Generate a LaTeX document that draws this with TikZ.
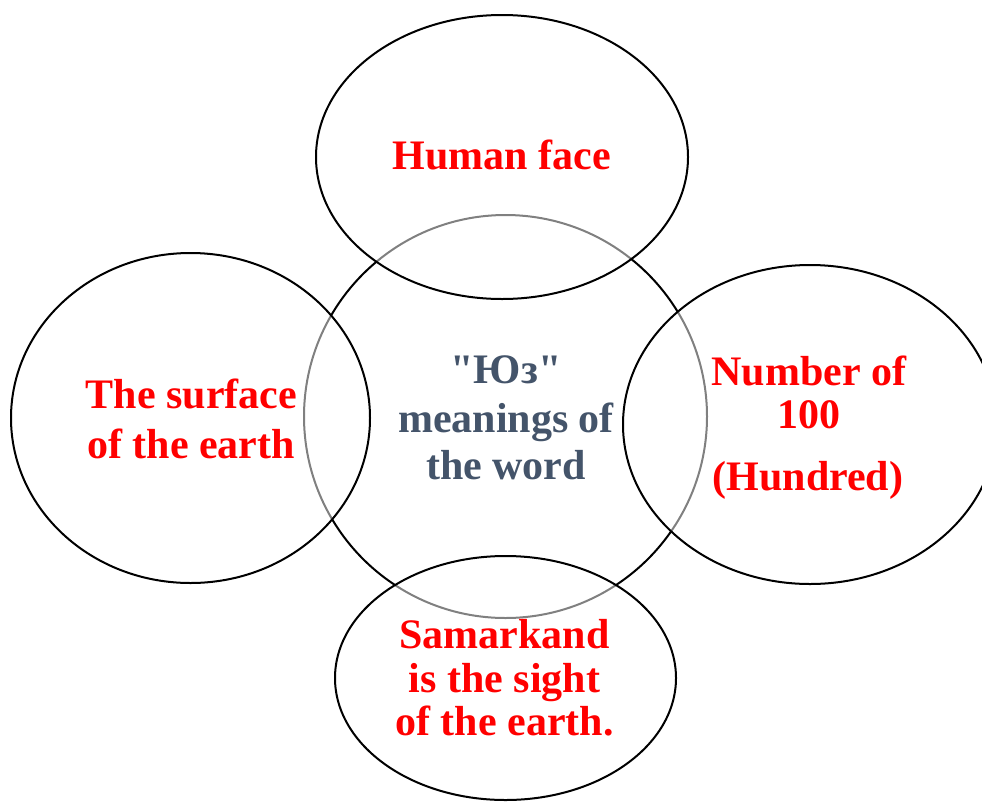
\documentclass[tikz,border=0pt]{standalone}
\usepackage{fontspec}
\newfontfamily\lserif{Liberation Serif}
\usetikzlibrary{shapes.geometric}
\definecolor{lblred}{HTML}{FF0000}
\definecolor{lblblue}{HTML}{44546A}
\begin{document}
\begin{tikzpicture}[x=1pt,y=-1pt,
  ring/.style={ellipse,draw=black,line width=2pt,inner sep=0pt,outer sep=0pt},
  petal/.style={ring,fill=white,fill opacity=0.5,draw opacity=1},
  lbl/.style={anchor=base,inner sep=0pt,text=lblred,font=\lserif\fontsize{42pt}{48pt}\selectfont\bfseries},
  mid/.style={lbl,text=lblblue}]
\useasboundingbox (0,0) rectangle (982,801);
% central circle
\node[ring,minimum width=403pt,minimum height=403pt] (core) at (505.5,416.5) {};
% surrounding ellipses
\node[petal,minimum width=372pt,minimum height=284pt] (top) at (502,157) {};
\node[petal,minimum width=359pt,minimum height=330pt] (left) at (190.5,418) {};
\node[petal,minimum width=374pt,minimum height=319pt] (right) at (810,424.5) {};
\node[petal,minimum width=341pt,minimum height=244pt] (bottom) at (505.5,678) {};
% labels
\node[lbl] (t1) at (502,169) {Human face};
\node[lbl] (l1) at (191.5,408) {The surface};
\node[lbl] (l2) at (191,458) {of the earth};
\node[mid] (c1) at (506,383) {"Юз"};
\node[mid] (c2) at (506,432) {meanings of};
\node[mid] (c3) at (506,479) {the word};
\node[lbl] (r1) at (809,385) {Number of};
\node[lbl] (r2) at (809,428) {100};
\node[lbl] (r3) at (808,490) {(Hundred)};
\node[lbl] (b1) at (504.5,648) {Samarkand};
\node[lbl] (b2) at (504.5,692) {is the sight};
\node[lbl] (b3) at (504.5,735) {of the earth.};
\end{tikzpicture}
\end{document}
